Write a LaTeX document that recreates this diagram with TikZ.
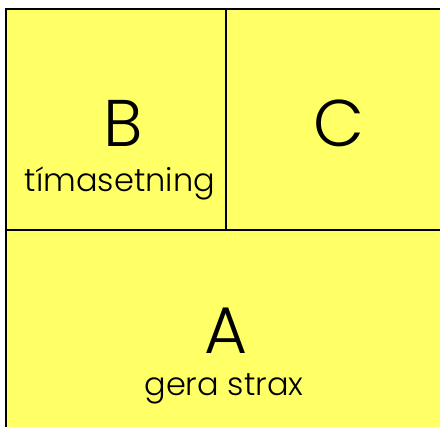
\documentclass[tikz,border=0pt]{standalone}
\usepackage{fontspec}
\setmainfont{Poppins}[UprightFont={* Light}]
\definecolor{cellyellow}{HTML}{FFFF66}
\begin{document}
\begin{tikzpicture}[
            x=1pt, y=-1pt,
            big/.style={font=\fontsize{66}{66}\selectfont, inner sep=0pt},
            small/.style={font=\fontsize{32}{32}\selectfont, inner sep=0pt}
        ]
            \useasboundingbox (0, 0) rectangle (440, 427);
            \clip (0, 0) rectangle (440, 427);
            \fill[white] (0, 0) rectangle (440, 427);
            \draw[fill=cellyellow, line width=2pt] (6, 9) rectangle (460, 450);
            \draw[line width=1.6pt] (6, 230) -- (460, 230);
            \draw[line width=1.6pt] (226, 9) -- (226, 230);
            \node[big] (b) at (123, 123) {B};
            \node[small] (bsub) at (120, 183) {tímasetning};
            \node[big] (c) at (339, 123) {C};
            \node[big] (a) at (226, 331) {A};
            \node[small] (asub) at (224, 389) {gera strax};
        \end{tikzpicture}
\end{document}
